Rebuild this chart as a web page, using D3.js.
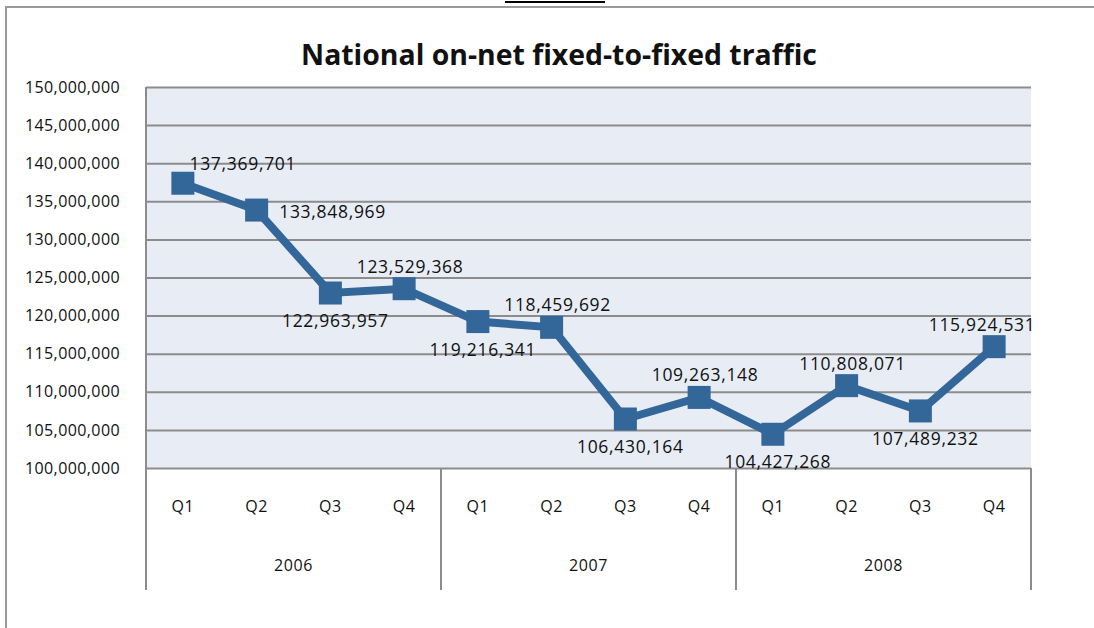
<!DOCTYPE html>
<html>
<head>
<meta charset="utf-8">
<script src="https://cdn.jsdelivr.net/npm/d3@7"></script>
<style>
    body { margin: 0; background: #fff; }
    svg text { font-family: "Open Sans", "Noto Sans", sans-serif; fill: #111; }
</style>
</head>
<body>
<div id="graph"></div>
<script>
// chart values
var years = ['2006', '2007', '2008'];
var quarters = ['Q1', 'Q2', 'Q3', 'Q4'];
var traffic = [
    137369701, 133848969, 122963957, 123529368,
    119216341, 118459692, 106430164, 109263148,
    104427268, 110808071, 107489232, 115924531
];
var yTicks = [100000000, 105000000, 110000000, 115000000, 120000000,
    125000000, 130000000, 135000000, 140000000, 145000000, 150000000];
// where each data label sits relative to its marker
var labelPlace = ['aboveRight', 'right', 'below', 'above', 'below', 'above',
    'below', 'above', 'below', 'above', 'below', 'aboveLeft'];

function draw() {
    var width = 1094,
        height = 628;

    var plot = {left: 146, right: 1031, top: 87, bottom: 468};

    var lineColor = '#336699',
        gridColor = '#8c8c8c',
        plotFill = '#e8edf5';

    var keys = [];
    years.forEach(function(y) {
        quarters.forEach(function(q) { keys.push(y + '-' + q); });
    });
    var data = traffic.map(function(v, i) {
        return {key: keys[i], year: years[Math.floor(i / 4)], q: quarters[i % 4], value: v, place: labelPlace[i]};
    });

    var svg = d3.select('#graph')
        .append('svg')
            .attr('width', width)
            .attr('height', height);

    // outer frame
    svg.append('path')
        .attr('d', 'M6,628 V7 H1094')
        .attr('fill', 'none')
        .attr('stroke', '#9a9a9a')
        .attr('stroke-width', 2);
    svg.append('line')
        .attr('x1', 505).attr('x2', 605)
        .attr('y1', 2).attr('y2', 2)
        .attr('stroke', '#000')
        .attr('stroke-width', 2);

    var x = d3.scaleBand()
        .domain(keys)
        .range([plot.left, plot.right])
        .padding(0);

    var y = d3.scaleLinear()
        .domain([100000000, 150000000])
        .range([plot.bottom, plot.top]);

    svg.append('rect')
        .attr('x', plot.left)
        .attr('y', plot.top)
        .attr('width', plot.right - plot.left)
        .attr('height', plot.bottom - plot.top)
        .attr('fill', plotFill);

    // gridlines + tick labels
    var yAxis = svg.append('g')
        .attr('transform', 'translate(' + plot.left + ',0)')
        .call(d3.axisLeft(y)
            .tickValues(yTicks)
            .tickSize(-(plot.right - plot.left))
            .tickPadding(26)
            .tickFormat(d3.format(',')));
    yAxis.select('.domain').remove();
    yAxis.selectAll('line')
        .attr('stroke', gridColor)
        .attr('stroke-width', 2);
    yAxis.selectAll('text')
        .attr('font-size', 16)
        .attr('letter-spacing', 0.4)
        .attr('fill', '#111');

    // left axis line down through the category box
    svg.append('line')
        .attr('x1', plot.left).attr('x2', plot.left)
        .attr('y1', plot.top).attr('y2', 590)
        .attr('stroke', gridColor)
        .attr('stroke-width', 2);

    // category box: quarter labels, year labels, year separators
    var bw = x.bandwidth();
    svg.append('g')
        .selectAll('text')
        .data(data)
        .enter()
        .append('text')
            .attr('x', function(d) { return x(d.key) + bw / 2; })
            .attr('y', 512)
            .attr('text-anchor', 'middle')
            .attr('font-size', 16)
            .attr('letter-spacing', 0.5)
            .text(function(d) { return d.q; });

    svg.append('g')
        .selectAll('text')
        .data(years)
        .enter()
        .append('text')
            .attr('x', function(d) { return (x(d + '-Q1') + x(d + '-Q4') + bw) / 2; })
            .attr('y', 571)
            .attr('text-anchor', 'middle')
            .attr('font-size', 16)
            .attr('letter-spacing', 0.6)
            .text(function(d) { return d; });

    svg.append('g')
        .selectAll('line')
        .data(years)
        .enter()
        .append('line')
            .attr('x1', function(d) { return x(d + '-Q4') + bw; })
            .attr('x2', function(d) { return x(d + '-Q4') + bw; })
            .attr('y1', plot.bottom)
            .attr('y2', 590)
            .attr('stroke', gridColor)
            .attr('stroke-width', 2);

    // series
    var cx = function(d) { return x(d.key) + bw / 2; };
    var line = d3.line()
        .x(cx)
        .y(function(d) { return y(d.value); });

    svg.append('path')
        .datum(data)
        .attr('d', line)
        .attr('fill', 'none')
        .attr('stroke', lineColor)
        .attr('stroke-width', 8)
        .attr('stroke-linejoin', 'miter');

    var m = 23;
    svg.append('g')
        .selectAll('rect')
        .data(data)
        .enter()
        .append('rect')
            .attr('x', function(d) { return cx(d) - m / 2; })
            .attr('y', function(d) { return y(d.value) - m / 2; })
            .attr('width', m)
            .attr('height', m)
            .attr('fill', lineColor);

    // data labels
    var fmt = d3.format(',');
    var off = {
        aboveRight: [60, -13],
        right: [76, 8],
        below: [5, 34],
        above: [6, -16],
        aboveLeft: [-12, -16]
    };
    svg.append('g')
        .selectAll('text')
        .data(data)
        .enter()
        .append('text')
            .attr('x', function(d) { return cx(d) + off[d.place][0]; })
            .attr('y', function(d) { return y(d.value) + off[d.place][1]; })
            .attr('text-anchor', 'middle')
            .attr('font-size', 17.5)
            .attr('letter-spacing', 0.7)
            .text(function(d) { return fmt(d.value); });

    // title
    svg.append('text')
        .attr('x', 559)
        .attr('y', 65)
        .attr('text-anchor', 'middle')
        .attr('font-size', 28.4)
        .attr('font-weight', 'bold')
        .attr('fill', '#000')
        .text('National on-net fixed-to-fixed traffic');
}

draw();
</script>
</body>
</html>
